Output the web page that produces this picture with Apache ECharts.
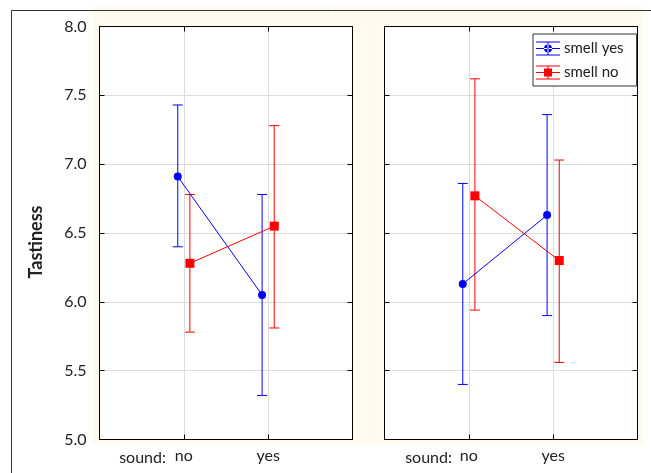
<!DOCTYPE html>
<html>
<head>
<meta charset="utf-8">
<script src="https://cdn.jsdelivr.net/npm/echarts@6/dist/echarts.min.js"></script>
<style>
html, body { margin: 0; padding: 0; background: #fff; }
#chart { width: 651px; height: 473px; }
</style>
</head>
<body>
<div id="chart"></div>
<script>
// x categories (sound) and the two smell groups
const sounds = ['no', 'yes']
const groups = ['smell yes', 'smell no']

// left panel: means and interval ends, [sound no, sound yes]
const leftYesMean = [6.91, 6.05]
const leftYesLow = [6.40, 5.32]
const leftYesHigh = [7.43, 6.78]
const leftNoMean = [6.28, 6.55]
const leftNoLow = [5.78, 5.81]
const leftNoHigh = [6.78, 7.28]

// right panel
const rightYesMean = [6.13, 6.63]
const rightYesLow = [5.40, 5.90]
const rightYesHigh = [6.86, 7.36]
const rightNoMean = [6.77, 6.30]
const rightNoLow = [5.94, 5.56]
const rightNoHigh = [7.62, 7.03]

const FONT = 'Lato'
const BLUE = '#0000ff'
const RED = '#ff0000'
const GRID_COLOR = '#dcdcdc'
const SHIFT = 0.072
const PLOT_W = 253
const CAP = 5 / (PLOT_W / 3) // cap half-width, 5px in x units

const iconBars = 'M0 1h24v1H0z M0 7.5h24v1H0z M0 14h24v1H0z M11.5 1h1v14h-1z '
const icons = [
  'path://' + iconBars + 'M8 8a4 4 0 1 0 8 0a4 4 0 1 0 -8 0z',
  'path://' + iconBars + 'M8 4h8v8h-8z'
]

const chart = echarts.init(document.getElementById('chart'))

function meanLine(name, color, symbol, size, means, g, shift) {
  return {
    name,
    type: 'line',
    xAxisIndex: g * 2,
    yAxisIndex: g * 2,
    data: means.map((m, i) => [i + 1 + shift, m]),
    symbol,
    symbolSize: size,
    z: 5,
    color,
    lineStyle: { color, width: 1 },
    itemStyle: { color },
    emphasis: { disabled: true }
  }
}

// whiskers as a broken line: top cap, stem, bottom cap for each sound level
function errorBars(name, color, low, high, g, shift) {
  const pts = []
  low.forEach((lo, i) => {
    const x = i + 1 + shift
    const hi = high[i]
    pts.push([x - CAP, hi], [x + CAP, hi], [x, null])
    pts.push([x, hi], [x, lo], [x, null])
    pts.push([x - CAP, lo], [x + CAP, lo], [x, null])
  })
  return {
    name,
    type: 'line',
    xAxisIndex: g * 2,
    yAxisIndex: g * 2,
    data: pts,
    symbol: 'none',
    connectNulls: false,
    z: 3,
    color,
    lineStyle: { color, width: 1 },
    emphasis: { disabled: true },
    silent: true
  }
}

const grids = [
  { left: 99.5, top: 26.5, width: PLOT_W, height: 413 },
  { left: 384.5, top: 26.5, width: PLOT_W, height: 413 }
]

const xAxes = []
const yAxes = []
grids.forEach((grid, g) => {
  const tick = { show: true, inside: true, length: 5, lineStyle: { color: '#000' } }
  const line = { show: true, onZero: false, lineStyle: { color: '#000', width: 1 } }
  xAxes.push({
    gridIndex: g, type: 'value', min: 0, max: 3, interval: 1,
    axisLine: line, axisTick: tick,
    axisLabel: {
      color: '#222', fontFamily: FONT, fontSize: 16, margin: 8,
      formatter: (v) => sounds[v - 1] || ''
    },
    splitLine: { show: true, lineStyle: { color: GRID_COLOR, width: 1 } }
  })
  xAxes.push({
    gridIndex: g, type: 'value', position: 'top', min: 0, max: 3, interval: 1,
    axisLine: line, axisTick: tick, axisLabel: { show: false }, splitLine: { show: false }
  })
  yAxes.push({
    gridIndex: g, type: 'value', min: 5, max: 8, interval: 0.5,
    axisLine: line, axisTick: tick,
    axisLabel: {
      show: g === 0, color: '#222', fontFamily: FONT, fontSize: 16, margin: 13,
      formatter: (v) => v.toFixed(1)
    },
    splitLine: { show: true, lineStyle: { color: GRID_COLOR, width: 1 } }
  })
  yAxes.push({
    gridIndex: g, type: 'value', position: 'right', min: 5, max: 8, interval: 0.5,
    axisLine: line, axisTick: tick, axisLabel: { show: false }, splitLine: { show: false }
  })
})

const series = [
  meanLine(groups[0], BLUE, 'circle', 8, leftYesMean, 0, -SHIFT),
  meanLine(groups[1], RED, 'rect', 9, leftNoMean, 0, SHIFT),
  meanLine(groups[0], BLUE, 'circle', 8, rightYesMean, 1, -SHIFT),
  meanLine(groups[1], RED, 'rect', 9, rightNoMean, 1, SHIFT),
  errorBars(groups[0], BLUE, leftYesLow, leftYesHigh, 0, -SHIFT),
  errorBars(groups[1], RED, leftNoLow, leftNoHigh, 0, SHIFT),
  errorBars(groups[0], BLUE, rightYesLow, rightYesHigh, 1, -SHIFT),
  errorBars(groups[1], RED, rightNoLow, rightNoHigh, 1, SHIFT)
]

const soundText = (x) => ({
  type: 'text', x, y: 458, z: 10,
  style: { text: 'sound:', fill: '#222', font: '16px ' + FONT, textAlign: 'right', textVerticalAlign: 'middle' }
})

chart.setOption({
  animation: false,
  textStyle: { fontFamily: FONT },
  grid: grids.map((g) => ({ ...g, show: true, backgroundColor: '#fff', borderWidth: 0 })),
  xAxis: xAxes,
  yAxis: yAxes,
  legend: {
    orient: 'vertical',
    left: 533, top: 34,
    padding: [7, 13, 6, 3],
    itemGap: 9,
    itemWidth: 24,
    itemHeight: 15,
    backgroundColor: '#fff',
    borderColor: '#333',
    borderWidth: 1,
    borderRadius: 0,
    selectedMode: false,
    textStyle: { color: '#222', fontFamily: FONT, fontSize: 15, lineHeight: 15, padding: [0, 0, 0, -1] },
    data: groups.map((name, i) => ({ name, icon: icons[i] }))
  },
  graphic: [
    { type: 'rect', z: -100, shape: { x: 93, y: 7, width: 550, height: 438 }, style: { fill: '#fffaf0' } },
    { type: 'line', z: 10, shape: { x1: 11.5, y1: 10.5, x2: 651, y2: 10.5 }, style: { stroke: '#333', lineWidth: 1 } },
    { type: 'line', z: 10, shape: { x1: 11.5, y1: 10.5, x2: 11.5, y2: 473 }, style: { stroke: '#333', lineWidth: 1 } },
    soundText(166),
    soundText(452),
    {
      type: 'text', x: 36, y: 242, rotation: Math.PI / 2, z: 10,
      style: { text: 'Tastiness', fill: '#222', font: 'bold 18px ' + FONT, textAlign: 'center', textVerticalAlign: 'middle' }
    }
  ],
  series
})
</script>
</body>
</html>
